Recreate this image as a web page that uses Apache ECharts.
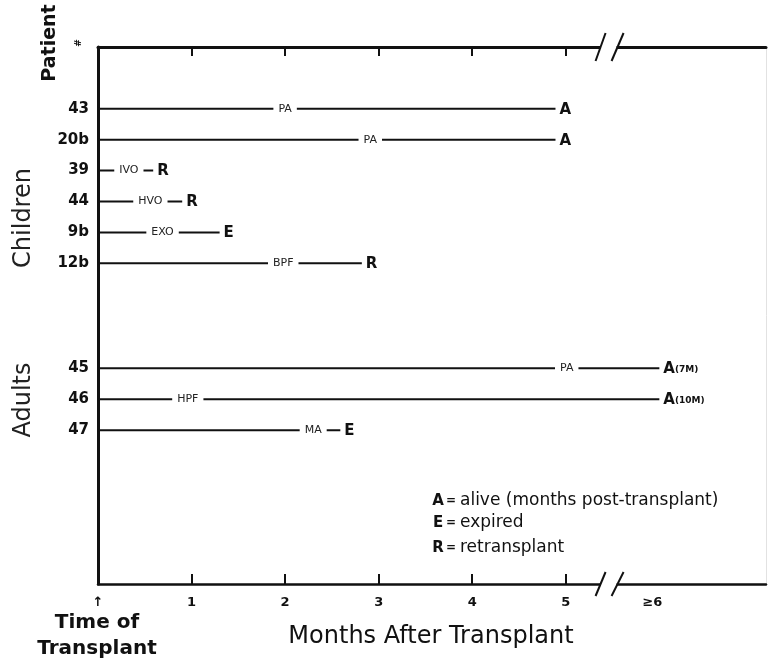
<!DOCTYPE html>
<html><head><meta charset="utf-8">
<script src="https://cdn.jsdelivr.net/npm/echarts@6/dist/echarts.min.js"></script>
<style>html,body{margin:0;padding:0;background:#fff}#c{width:768px;height:666px}</style>
</head><body><div id="c"></div>
<script>
// ---- data ----
const patients = ['43','20b','39','44','9b','12b','45','46','47'];
const rowSlot = [2,3,4,5,6,7,10.4,11.4,12.4];
const followUp = [4.89,4.89,0.59,0.90,1.30,2.82,6.0,6.0,2.59];
const complication = ['PA','PA','IVO','HVO','EXO','BPF','PA','HPF','MA'];
const complicationAt = [2.0,2.91,0.33,0.56,0.69,1.98,5.01,0.96,2.30];
const outcome = ['A','A','R','R','E','R','A','A','E'];
const outcomeMonths = ['','','','','','','7M','10M',''];
const groups = ['Children','Adults'];
const xTickValues = [0,1,2,3,4,5,6];
const xTickLabels = ['\u2191','1','2','3','4','5','\u22656'];
const xMajorTicks = [1,2,3,4,5];
const legendKeys = ['A','E','R'];
const legendTexts = ['alive (months post-transplant)','expired','retransplant'];
const breakAt = 5.5;

const FONT = '"DejaVu Sans", "Liberation Sans", sans-serif';
const INK = '#111';

const chart = echarts.init(document.getElementById('c'), null, {renderer: 'canvas'});

const seriesData = patients.map((p, i) => [followUp[i], rowSlot[i], complicationAt[i], i]);

const option = {
  backgroundColor: '#fff',
  animation: false,
  grid: {left: 98, right: 2, top: 47, bottom: 82, containLabel: false},
  xAxis: [{
    type: 'value', position: 'bottom', min: 0, max: 7.14,
    axisLine: {show: true, onZero: false, lineStyle: {color: INK, width: 2.5}},
    axisTick: {show: true, inside: true, length: 10, customValues: xMajorTicks, lineStyle: {color: INK, width: 2}},
    axisLabel: {
      show: true, customValues: xTickValues, margin: 12,
      color: INK, fontFamily: FONT, fontSize: 13, fontWeight: 'bold',
      formatter: v => {
        const k = xTickValues.indexOf(v);
        if (k < 0) return '';
        return k === xTickValues.length - 1 ? '{s|' + xTickLabels[k] + '}' : xTickLabels[k];
      },
      rich: {s: {fontFamily: FONT, fontSize: 13, fontWeight: 'bold', color: INK, padding: [0, 14, 0, 0]}}
    },
    splitLine: {show: false}
  }, {
    type: 'value', position: 'top', min: 0, max: 7.14,
    axisLine: {show: true, onZero: false, lineStyle: {color: INK, width: 3}},
    axisTick: {show: true, inside: true, length: 9, customValues: xMajorTicks, lineStyle: {color: INK, width: 2}},
    axisLabel: {show: false},
    splitLine: {show: false}
  }],
  yAxis: [{
    type: 'value', inverse: true, min: 0, max: 17.38, position: 'left',
    axisLine: {show: true, onZero: false, lineStyle: {color: INK, width: 3}},
    axisTick: {show: false},
    axisLabel: {
      show: true, customValues: rowSlot, margin: 9,
      color: INK, fontFamily: FONT, fontSize: 15, fontWeight: 'bold',
      formatter: v => { const k = rowSlot.indexOf(v); return k >= 0 ? patients[k] : ''; }
    },
    splitLine: {show: false}
  }, {
    type: 'value', inverse: true, min: 0, max: 17.38, position: 'right',
    axisLine: {show: true, onZero: false, lineStyle: {color: '#e2e2e2', width: 1}},
    axisTick: {show: false}, axisLabel: {show: false}, splitLine: {show: false}
  }],
  series: [{
    type: 'custom',
    xAxisIndex: 0, yAxisIndex: 0,
    data: seriesData,
    clip: false,
    renderItem: function (params, api) {
      const i = api.value(3);
      const y = api.value(1);
      const p0 = api.coord([0, y]);
      const p1 = api.coord([api.value(0), y]);
      const pc = api.coord([api.value(2), y]);
      const outText = outcomeMonths[i]
        ? '{a|' + outcome[i] + '}{m|(' + outcomeMonths[i] + ')}'
        : '{a|' + outcome[i] + '}';
      return {
        type: 'group',
        children: [
          {type: 'line', shape: {x1: p0[0], y1: p0[1], x2: p1[0], y2: p1[1]},
           style: {stroke: INK, lineWidth: 2}},
          {type: 'text', x: pc[0], y: pc[1], z2: 5,
           style: {text: complication[i], fill: '#222', font: '11px ' + FONT,
                   align: 'center', verticalAlign: 'middle', backgroundColor: '#fff', padding: [3, 5]}},
          {type: 'text', x: p1[0] + 4, y: p1[1] + 1, z2: 5,
           style: {text: outText, align: 'left', verticalAlign: 'middle',
                   rich: {
                     a: {fontFamily: FONT, fontSize: 15, fontWeight: 'bold', fill: INK, color: INK},
                     m: {fontFamily: FONT, fontSize: 9, fontWeight: 'bold', fill: INK, color: INK}
                   }}}
        ]
      };
    }
  }],
  graphic: []
};
chart.setOption(option);

// ---- decorations: axis break, titles, legend ----
const bx = chart.convertToPixel({xAxisIndex: 0}, breakAt);
const yTop = 47, yBot = 584;
function breakMarks(yc, h) {
  return [
    {type: 'rect', shape: {x: bx - 12, y: yc - 3, width: 16, height: 6}, style: {fill: '#fff'}, z: 100},
    {type: 'line', shape: {x1: bx - 17, y1: yc + h, x2: bx - 7, y2: yc - h}, style: {stroke: INK, lineWidth: 2}, z: 101},
    {type: 'line', shape: {x1: bx - 1, y1: yc + h, x2: bx + 11, y2: yc - h}, style: {stroke: INK, lineWidth: 2}, z: 101}
  ];
}
const g = [];
g.push(...breakMarks(yTop, 14));
g.push(...breakMarks(yBot, 12));

g.push({type: 'text', x: 50, y: 43, rotation: Math.PI / 2, z: 10,
  style: {text: 'Patient', font: 'bold 19px ' + FONT, fill: INK, align: 'center', verticalAlign: 'middle'}});
g.push({type: 'text', x: 79, y: 43, rotation: Math.PI / 2, z: 10,
  style: {text: '#', font: 'bold 9px ' + FONT, fill: INK, align: 'center', verticalAlign: 'middle'}});
g.push({type: 'text', x: 24, y: 218, rotation: Math.PI / 2, z: 10,
  style: {text: groups[0], font: '24px ' + FONT, fill: '#222', align: 'center', verticalAlign: 'middle'}});
g.push({type: 'text', x: 24, y: 400, rotation: Math.PI / 2, z: 10,
  style: {text: groups[1], font: '24px ' + FONT, fill: '#222', align: 'center', verticalAlign: 'middle'}});

g.push({type: 'text', x: 97, y: 636, z: 10,
  style: {text: 'Time of\nTransplant', font: 'bold 20px ' + FONT, fill: INK, align: 'center', verticalAlign: 'middle', lineHeight: 26}});
g.push({type: 'text', x: 431, y: 637, z: 10,
  style: {text: 'Months After Transplant', font: '24px ' + FONT, fill: INK, align: 'center', verticalAlign: 'middle'}});

const legendY = [501, 523, 548];
legendKeys.forEach((k, i) => {
  g.push({type: 'text', x: 438, y: legendY[i], z: 10,
    style: {text: k, font: 'bold 15px ' + FONT, fill: INK, align: 'center', verticalAlign: 'middle'}});
  g.push({type: 'text', x: 451, y: legendY[i], z: 10,
    style: {text: '=', font: 'bold 12px ' + FONT, fill: INK, align: 'center', verticalAlign: 'middle'}});
  g.push({type: 'text', x: 460, y: legendY[i], z: 10,
    style: {text: legendTexts[i], font: '17px ' + FONT, fill: INK, align: 'left', verticalAlign: 'middle'}});
});

chart.setOption({graphic: g});
</script>
</body></html>
